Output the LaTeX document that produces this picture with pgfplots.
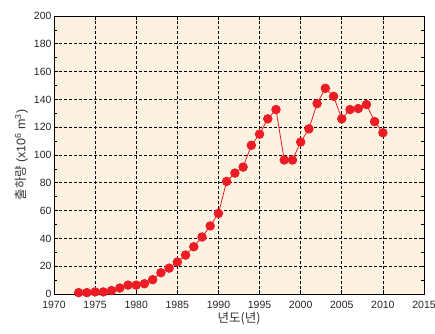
\documentclass[border=0pt]{standalone}
\usepackage{pgfplots}
\pgfplotsset{compat=1.18}
\usepackage{fontspec}
\setmainfont{Liberation Sans}
\newfontfamily\kr{Noto Sans CJK KR}
\definecolor{bgcream}{HTML}{FDF1E1}
\definecolor{dotred}{HTML}{EC1C24}
\begin{document}
\begin{tikzpicture}
\useasboundingbox (-54pt,-39pt) rectangle (381pt,294pt);
\begin{axis}[
  scale only axis,
  width=370pt, height=278pt,
  xmin=1970, xmax=2015, ymin=0, ymax=200,
  xtick={1970,1975,...,2015},
  ytick={0,20,...,200},
  minor y tick num=1,
  xticklabel style={/pgf/number format/1000 sep={}, yshift=-4pt},
  yticklabel style={xshift=1pt},
  /pgf/number format/assume math mode=true,
  tick label style={font=\fontsize{10.5}{12}\selectfont, text=black!85},
  grid=major,
  major grid style={black, densely dashed, line width=0.7pt},
  axis line style={black, line width=1pt},
  tick style={black, line width=0.7pt},
  major tick length=4pt, minor tick length=3pt,
  tick align=inside,
  axis background/.style={fill=bgcream},
  xlabel={\kr 년도(년)},
  ylabel={\kr 출하량 \fontspec{Liberation Sans}(x10\textsuperscript{6} m\textsuperscript{3})},
  label style={font=\fontsize{12.5}{14}\selectfont, text=black!80},
  xlabel style={yshift=4pt},
  ylabel style={yshift=-1pt},
]
\addplot[color=dotred, line width=0.8pt, mark=*, mark size=4.3pt,
  mark options={fill=dotred, draw=dotred}] coordinates {
(1973,1) (1974,1) (1975,1.5) (1976,1.5) (1977,2.5) (1978,4.3) (1979,6.4)
(1980,6.4) (1981,7.4) (1982,10.3) (1983,15.3) (1984,18.6) (1985,23)
(1986,28) (1987,34) (1988,41) (1989,49) (1990,58) (1991,81) (1992,87)
(1993,91.3) (1994,107) (1995,115) (1996,126) (1997,132.7) (1998,96.4)
(1999,96.4) (2000,109.3) (2001,118.8) (2002,137) (2003,148) (2004,142.2)
(2005,126) (2006,132.7) (2007,133.4) (2008,136.3) (2009,124) (2010,116)
};
\end{axis}
\end{tikzpicture}
\end{document}
